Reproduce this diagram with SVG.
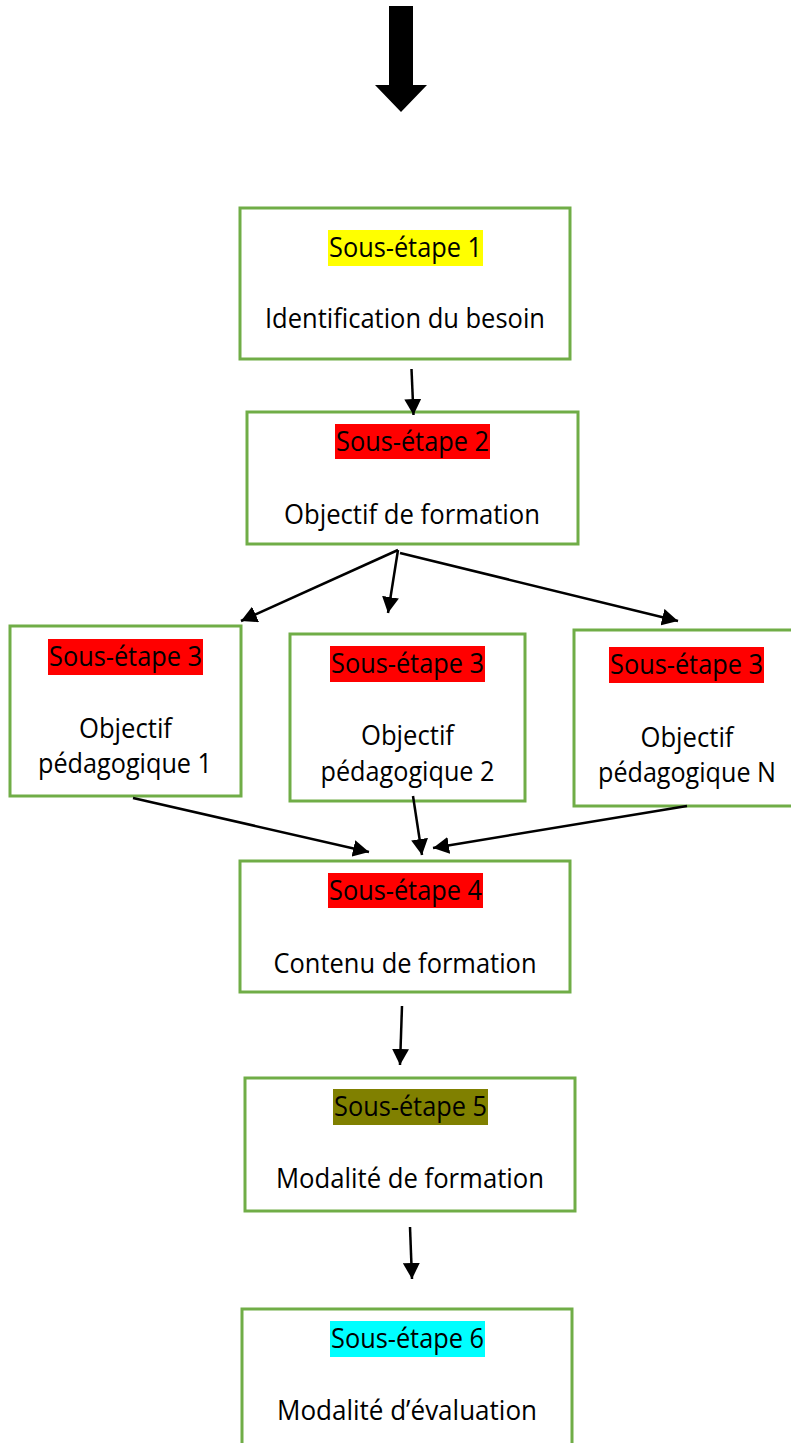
<svg xmlns="http://www.w3.org/2000/svg" width="791" height="1443" viewBox="0 0 791 1443">
<defs>
<marker id="ah" markerUnits="userSpaceOnUse" markerWidth="17" markerHeight="17" refX="16" refY="8.5" orient="auto">
<path d="M0,0 L16,8.5 L0,17 z" fill="#000"/>
</marker>
<style>
.box{fill:#fff;stroke:#70AD47;stroke-width:3}
.t{font-family:"Open Sans","Lato","Liberation Sans",sans-serif;font-size:27px;fill:#000;text-anchor:middle;font-variant-ligatures:none;font-feature-settings:"liga" 0}
.c{stroke:#000;stroke-width:2.5;fill:none;marker-end:url(#ah)}
</style>
</defs>
<rect width="791" height="1443" fill="#fff"/>
<polygon points="389,6 413,6 413,85 427,85 401,112 375,85 389,85" fill="#000"/>

<g id="n1">
<rect class="box" x="240" y="208" width="330" height="151"/>
<rect x="328" y="230" width="155" height="36" fill="#FFFF00"/>
<text class="t" x="405.5" y="257" textLength="153" lengthAdjust="spacingAndGlyphs">Sous-étape 1</text>
<text class="t" x="405" y="328" textLength="280" lengthAdjust="spacingAndGlyphs">Identification du besoin</text>
</g>
<g id="n2">
<rect class="box" x="247" y="412" width="331" height="132"/>
<rect x="335" y="424" width="155" height="35" fill="#FF0000"/>
<text class="t" x="412.5" y="451" textLength="153" lengthAdjust="spacingAndGlyphs">Sous-étape 2</text>
<text class="t" x="412" y="524" textLength="256" lengthAdjust="spacingAndGlyphs">Objectif de formation</text>
</g>
<g id="n3a">
<rect class="box" x="10" y="626" width="231" height="170"/>
<rect x="48" y="639" width="155" height="36" fill="#FF0000"/>
<text class="t" x="125.5" y="666" textLength="153" lengthAdjust="spacingAndGlyphs">Sous-étape 3</text>
<text class="t" x="125.5" y="738" textLength="93" lengthAdjust="spacingAndGlyphs">Objectif</text>
<text class="t" x="125" y="773" textLength="174" lengthAdjust="spacingAndGlyphs">pédagogique 1</text>
</g>
<g id="n3b">
<rect class="box" x="290" y="634" width="235" height="167"/>
<rect x="330" y="646" width="155" height="36" fill="#FF0000"/>
<text class="t" x="407.5" y="673" textLength="153" lengthAdjust="spacingAndGlyphs">Sous-étape 3</text>
<text class="t" x="407.5" y="745" textLength="93" lengthAdjust="spacingAndGlyphs">Objectif</text>
<text class="t" x="407.5" y="781" textLength="174" lengthAdjust="spacingAndGlyphs">pédagogique 2</text>
</g>
<g id="n3c">
<rect class="box" x="574" y="630" width="222" height="176"/>
<rect x="609" y="647" width="155" height="36" fill="#FF0000"/>
<text class="t" x="686.5" y="674" textLength="153" lengthAdjust="spacingAndGlyphs">Sous-étape 3</text>
<text class="t" x="687" y="747" textLength="93" lengthAdjust="spacingAndGlyphs">Objectif</text>
<text class="t" x="687" y="782" textLength="178" lengthAdjust="spacingAndGlyphs">pédagogique N</text>
</g>
<g id="n4">
<rect class="box" x="240" y="861" width="330" height="131"/>
<rect x="328" y="873" width="155" height="35" fill="#FF0000"/>
<text class="t" x="405.5" y="900" textLength="153" lengthAdjust="spacingAndGlyphs">Sous-étape 4</text>
<text class="t" x="405" y="973" textLength="263" lengthAdjust="spacingAndGlyphs">Contenu de formation</text>
</g>
<g id="n5">
<rect class="box" x="245" y="1078" width="330" height="133"/>
<rect x="333" y="1089" width="155" height="36" fill="#808000"/>
<text class="t" x="410.5" y="1116" textLength="153" lengthAdjust="spacingAndGlyphs">Sous-étape 5</text>
<text class="t" x="410" y="1188" textLength="268" lengthAdjust="spacingAndGlyphs">Modalité de formation</text>
</g>
<g id="n6">
<rect class="box" x="242" y="1309" width="330" height="150"/>
<rect x="330" y="1321" width="155" height="36" fill="#00FFFF"/>
<text class="t" x="407.5" y="1348" textLength="153" lengthAdjust="spacingAndGlyphs">Sous-étape 6</text>
<text class="t" x="407" y="1420" textLength="260" lengthAdjust="spacingAndGlyphs">Modalité d’évaluation</text>
</g>

<g id="connectors">
<line class="c" x1="411.5" y1="369" x2="413.5" y2="415"/>
<line class="c" x1="398" y1="550" x2="241" y2="621"/>
<line class="c" x1="398" y1="550" x2="388" y2="613"/>
<line class="c" x1="400" y1="553" x2="678" y2="621"/>
<line class="c" x1="133" y1="798" x2="369" y2="852"/>
<line class="c" x1="413" y1="796" x2="422" y2="855"/>
<line class="c" x1="687" y1="806" x2="433" y2="848"/>
<line class="c" x1="402" y1="1006" x2="400" y2="1065"/>
<line class="c" x1="410" y1="1227" x2="412" y2="1279"/>
</g>
</svg>
